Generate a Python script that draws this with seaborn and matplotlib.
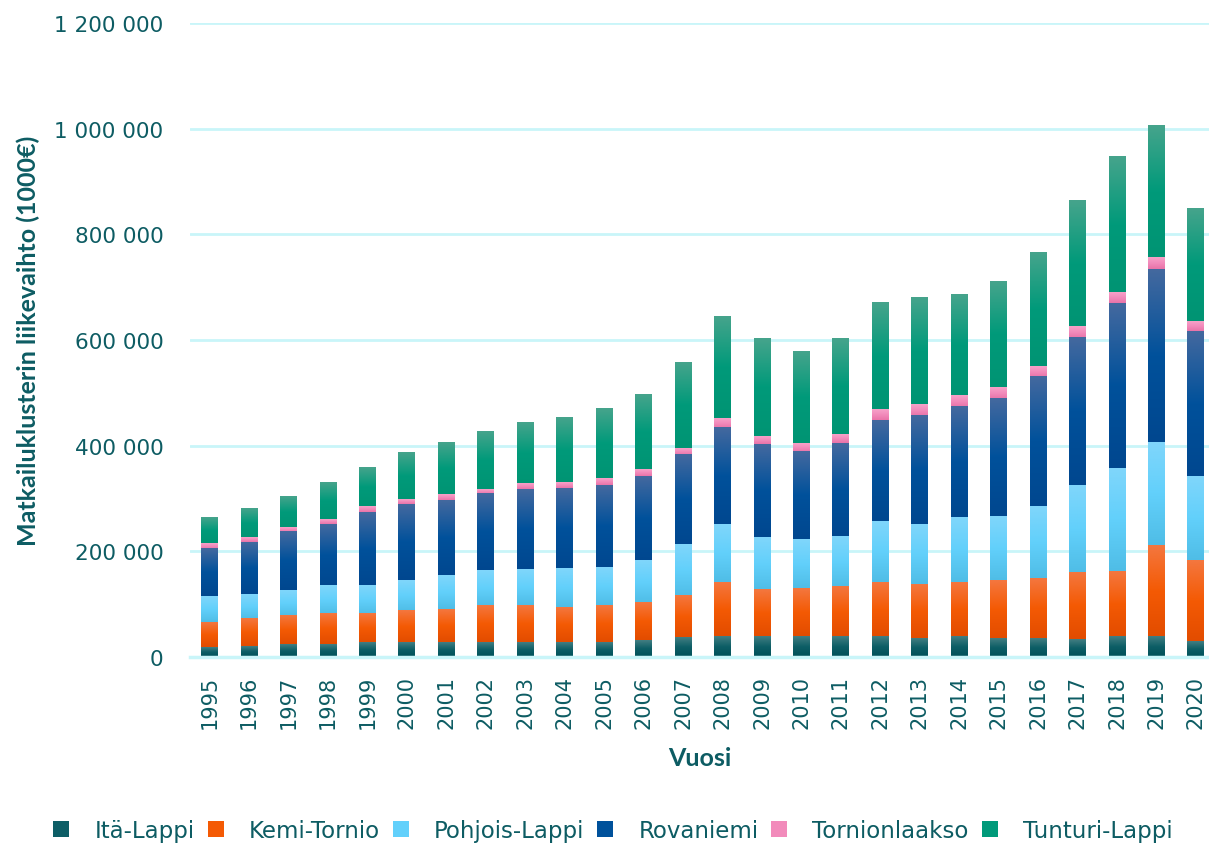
import numpy as np
import seaborn as sns
import matplotlib.pyplot as plt
from matplotlib.colors import LinearSegmentedColormap
from matplotlib.patches import Patch
from matplotlib.ticker import FuncFormatter

# Matkailuklusterin liikevaihto (1000 €) seutukunnittain, luettu kuvasta
years = [str(y) for y in range(1995, 2021)]

ita_lappi = [18900, 20800, 24600, 24600, 26500, 26500, 27800, 27800, 27800, 27800,
             27800, 31500, 36000, 39700, 37900, 39700, 37900, 37900, 35300, 39100,
             35300, 35300, 33800, 38500, 38500, 29100]
kemi_tornio = [47000, 51700, 53000, 56800, 54900, 61100, 62400, 68700, 70000, 66200,
               70000, 70100, 79500, 102200, 89000, 90800, 95200, 104100, 102100, 102100,
               109700, 113500, 125100, 124400, 173100, 154100]
pohjois_lappi = [49000, 46700, 49200, 53000, 53000, 58100, 62500, 67500, 68100, 73800,
                 71900, 79500, 98400, 107900, 100300, 92700, 96000, 113600, 113500, 122900,
                 121000, 136100, 166300, 194800, 193400, 157600]
rovaniemi = [89000, 98400, 109800, 117300, 140000, 143800, 143800, 143900, 151400, 151400,
             155200, 160800, 168500, 183600, 176000, 164700, 176000, 193000, 206100, 210000,
             223200, 245900, 278600, 312300, 329200, 275800]
tornionlaakso = [9500, 7600, 7600, 7600, 9500, 7600, 9500, 9400, 9500, 9500,
                 11400, 11400, 13200, 18900, 15100, 17000, 17000, 20800, 22700, 22700,
                 22700, 20800, 21600, 19000, 21000, 18900]
tunturi_lappi = [51000, 54900, 58700, 71900, 75700, 90800, 100300, 107900, 115500, 124900,
                 132500, 142000, 160900, 193000, 183600, 174100, 181700, 202500, 202400, 191000,
                 200500, 215600, 239300, 257500, 251500, 212300]

names = ["Itä-Lappi", "Kemi-Tornio", "Pohjois-Lappi", "Rovaniemi", "Tornionlaakso", "Tunturi-Lappi"]
series = [ita_lappi, kemi_tornio, pohjois_lappi, rovaniemi, tornionlaakso, tunturi_lappi]

# gradient stops (bottom, middle, top) like the Excel fills
gradients = [
    ("#005058", "#0d5e66", "#437e82"),
    ("#e24c00", "#f45a04", "#f4773f"),
    ("#4fbde6", "#62d0fb", "#80d6fb"),
    ("#00478f", "#00519b", "#44699f"),
    ("#e973a8", "#f28bbb", "#f7a2c9"),
    ("#009473", "#009a7a", "#46a48c"),
]

text_col = "#0d5c63"
grid_col = "#c9f5f9"

sns.set_theme(style="white")
plt.rcParams["font.family"] = ["DejaVu Sans"]

fig = plt.figure(figsize=(12.09, 8.45), dpi=100)
ax = fig.add_axes([190 / 1209, 1 - 658 / 845, 1 - 190 / 1209, (658 - 24) / 845])

cums = np.cumsum(np.array(series), axis=0)
grad = np.linspace(0, 1, 256).reshape(-1, 1)

# draw cumulative totals from the top layer down, then paint gradients per segment
for k in range(len(series) - 1, -1, -1):
    n_before = len(ax.patches)
    sns.barplot(x=years, y=cums[k], color=gradients[k][1], width=0.43,
                saturation=1, ax=ax, zorder=2 + 2 * (5 - k))
    bars = ax.patches[n_before:]
    lower = cums[k - 1] if k > 0 else np.zeros(len(years))
    cmap = LinearSegmentedColormap.from_list(names[k], gradients[k])
    for p, lo in zip(bars, lower):
        p.set_linewidth(0)
        x0 = p.get_x()
        ax.imshow(grad, extent=[x0, x0 + p.get_width(), lo, p.get_height()],
                  origin="lower", aspect="auto", cmap=cmap,
                  interpolation="bilinear", zorder=3 + 2 * (5 - k))

ax.set_xlim(-0.5, 25.33)
ax.set_ylim(0, 1200000)
ax.set_yticks(np.arange(0, 1200001, 200000))
ax.yaxis.set_major_formatter(FuncFormatter(lambda v, _: f"{v:,.0f}".replace(",", " ")))

ax.grid(axis="y", color=grid_col, linewidth=2)
ax.set_axisbelow(True)
for s in ["top", "right", "left"]:
    ax.spines[s].set_visible(False)
ax.spines["bottom"].set_color(grid_col)
ax.spines["bottom"].set_linewidth(2.5)
ax.spines["bottom"].set_zorder(30)

ax.tick_params(axis="y", length=0, pad=19, labelsize=15.5, labelcolor=text_col)
ax.tick_params(axis="x", length=0, pad=13, labelsize=15, labelcolor=text_col,
               labelrotation=90)

ax.set_ylabel("Matkailuklusterin liikevaihto (1000€)", fontsize=18,
              fontweight="bold", color=text_col, family=["Lato", "DejaVu Sans"])
ax.yaxis.set_label_coords(-0.147, 0.5)
ax.set_xlabel("Vuosi", fontsize=18, fontweight="bold", color=text_col,
              family=["Lato", "DejaVu Sans"])
ax.xaxis.set_label_coords(0.5, -0.14)

handles = [Patch(facecolor=g[1], edgecolor="none") for g in gradients]
leg = fig.legend(handles, names, loc="center", bbox_to_anchor=(0.507, 0.0154),
                 ncol=6, frameon=False, fontsize=16.5, handlelength=0.7,
                 handleheight=0.7, handletextpad=1.09, columnspacing=0.57)
for t in leg.get_texts():
    t.set_color(text_col)

fig.savefig("out.png", dpi=100)
